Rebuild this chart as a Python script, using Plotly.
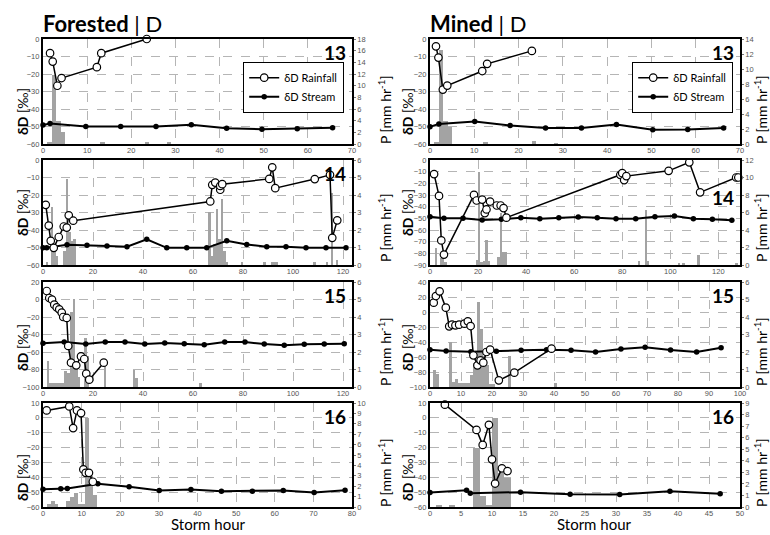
import plotly.graph_objects as go

# ---------------- DATA ----------------
# Forested event 13
f13_rain_h = [1.6, 2.2, 3.25, 4.2, 12.2, 13.2, 23.5]
f13_rain_d = [-8.1, -12.9, -26.7, -22.3, -16.1, -8.1, 0.0]
f13_stream_h = [0, 1.6, 9.7, 17.6, 25.6, 33.6, 41.6, 49.6, 57.6, 65.6]
f13_stream_d = [-49.2, -48.3, -50.0, -50.0, -50.0, -49.0, -51.0, -51.6, -51.3, -50.7]
f13_p_h = [1, 2, 3, 4, 13, 23, 28]
f13_p = [0.4, 11.8, 4.0, 2.0, 0.4, 0.4, 0.2]

# Mined event 13
m13_rain_h = [1.35, 1.9, 2.9, 3.9, 11.8, 12.9, 23.0]
m13_rain_d = [-4.2, -10.6, -28.9, -26.6, -18.3, -14.2, -6.8]
m13_stream_h = [0, 2.0, 10.1, 18.1, 26.1, 34.2, 42.1, 50.3, 58.2, 66.3]
m13_stream_d = [-50.2, -48.5, -47.2, -49.4, -50.9, -50.8, -48.9, -51.9, -51.7, -50.8]
m13_p_h = [1, 2, 3, 4, 12, 23, 28]
m13_p = [0.2, 12.6, 3.1, 2.3, 0.15, 0.45, 0.1]

# Forested event 14
f14_rain_h = [1.1, 2.3, 3.1, 4.3, 6.3, 8.3, 9.5, 10.3, 12.1, 66.9, 67.7, 68.9, 70.9, 70.9,
              71.7, 90.5, 91.7, 92.9, 108.7, 114.8, 115.7, 117.7]
f14_rain_d = [-25.6, -37.5, -46.2, -50.2, -44.0, -38.0, -38.6, -31.6, -34.7, -23.7, -14.2, -12.9,
              -17.0, -14.8, -13.8, -10.8, -4.2, -16.1, -10.9, -8.5, -44.5, -34.5]
f14_stream_h = [0, 1.5, 9.6, 17.6, 25.6, 33.6, 41.5, 49.5, 57.5, 65.5, 73.5, 81.5, 89.5, 97.2,
                105.2, 113.2, 121.2]
f14_stream_d = [-50.2, -50.2, -48.5, -48.7, -49.1, -49.6, -45.3, -50.2, -50.2, -50.2, -46.2,
                -48.3, -49.6, -49.6, -50.2, -50.2, -50.2]
f14_p_h = [1, 3, 4, 5, 8, 9, 10, 11, 12, 66, 67, 68, 69, 70, 71, 72, 73, 79, 88, 91, 92, 93,
           108, 113, 115, 117]
f14_p = [0.2, 3.3, 1.0, 0.5, 0.8, 4.9, 1.9, 1.4, 1.5, 3.05, 0.5, 1.2, 3.2, 1.5, 3.75, 0.8, 0.2,
         0.2, 0.2, 0.2, 0.2, 0.2, 0.2, 0.2, 4.1, 0.3]

# Mined event 14
m14_rain_h = [1.7, 3.75, 4.7, 5.8, 18.3, 19.4, 21.7, 22.8, 23.5, 25.0, 27.8, 29.4, 30.6, 31.8,
              79.2, 80.0, 80.8, 81.7, 99.3, 107.9, 112.4, 127.4, 128.3]
m14_rain_d = [-12.1, -30.8, -68.9, -81.1, -29.9, -34.7, -33.9, -45.5, -42.4, -35.6, -39.0, -39.0,
              -41.2, -49.4, -12.7, -11.3, -17.2, -13.8, -9.3, -2.0, -27.7, -15.0, -15.0]
m14_stream_h = [0, 5.8, 13.75, 21.7, 29.7, 37.8, 45.7, 53.6, 61.7, 69.6, 77.4, 85.6, 93.6,
                101.7, 109.6, 117.5, 125.6]
m14_stream_d = [-48.6, -50.0, -50.0, -51.4, -50.8, -49.4, -50.3, -49.4, -48.9, -49.4, -50.3,
                -50.3, -48.6, -48.0, -50.3, -50.8, -51.7]
m14_p_h = [2, 4, 5, 6, 19, 20, 21, 22, 23, 24, 28, 29, 30, 31, 86.5, 89.3, 90.3, 103, 105,
           111.3, 127]
m14_p = [1.9, 0.76, 0.76, 0.4, 0.57, 10.6, 0.4, 0.5, 2.9, 0.5, 0.95, 5.9, 1.45, 1.45, 0.46,
         6.3, 0.46, 0.2, 0.2, 1.2, 0.2]

# Forested event 15
f15_rain_h = [1.5, 2.5, 3.6, 4.5, 5.5, 6.5, 7.5, 8.1, 9.5, 10.1, 11.2, 13.3, 15.2, 16.5, 17.3,
              18.5, 24.3]
f15_rain_d = [9.7, 1.7, -0.2, -5.9, -9.0, -11.2, -15.0, -20.0, -21.1, -53.1, -72.2, -75.2,
              -65.0, -68.0, -84.8, -91.6, -72.2]
f15_stream_h = [0, 8.5, 17.1, 24.9, 32.8, 40.7, 48.7, 56.5, 64.5, 72.7, 80.8, 88.5, 96.5,
                104.5, 112.5, 120.5]
f15_stream_d = [-50.1, -48.6, -50.9, -48.6, -48.6, -50.9, -49.7, -50.5, -51.6, -48.6, -48.6,
                -50.9, -52.4, -51.2, -50.9, -50.5]
f15_p_h = [1.5, 2.5, 3.5, 4.5, 5.5, 6.5, 7.5, 8.5, 9.7, 10.8, 11.8, 12.8, 13.8, 16.5, 17.5,
           24.2, 35.9, 36.8, 62.5]
f15_p = [1.5, 0.25, 0.25, 0.25, 0.25, 0.25, 0.25, 0.9, 0.8, 4.3, 5.05, 1.2, 0.6, 2.8, 1.8,
         1.4, 1.0, 0.5, 0.25]

# Mined event 15
m15_rain_h = [1.2, 1.9, 3.1, 5.1, 6.2, 7.1, 8.2, 9.4, 11.1, 12.2, 13.1, 14.0, 15.3, 16.3, 17.2,
              18.2, 19.4, 22.2, 27.2, 39.2]
m15_rain_d = [12.4, 21.3, 27.6, 5.8, -19.1, -16.9, -17.8, -16.9, -15.6, -12.4, -18.7, -57.8,
              -71.1, -64.4, -67.6, -53.3, -50.2, -91.1, -80.9, -48.9]
m15_stream_h = [0, 5.2, 13.2, 21.4, 29.4, 37.6, 45.5, 53.4, 61.6, 69.4, 77.6, 86.0, 93.9]
m15_stream_d = [-50.2, -52.0, -52.9, -52.4, -51.1, -50.2, -51.1, -53.3, -49.3, -47.1, -50.7,
                -53.3, -47.6]
m15_p_h = [1, 2, 6, 7, 8, 9, 10, 11, 12, 13, 14, 15, 16, 17, 18, 19, 20, 25, 40]
m15_p = [1.0, 0.76, 2.57, 0.3, 0.48, 0.23, 0.23, 0.23, 0.23, 0.67, 1.4, 4.86, 3.3, 1.8, 1.24,
         0.2, 0.2, 1.8, 0.25]

# Forested event 16
f16_rain_h = [0.94, 6.8, 7.8, 8.8, 9.85, 10.45, 11.05, 11.9, 12.9]
f16_rain_d = [5.0, 7.7, -6.9, 5.0, 3.2, -34.7, -37.0, -37.0, -43.0]
f16_stream_h = [0, 4.6, 6.3, 14.2, 22.3, 30.1, 38.3, 46.2, 54.2, 62.2, 70.2, 78.2]
f16_stream_d = [-48.0, -47.8, -47.6, -44.4, -46.4, -48.9, -48.2, -49.4, -49.4, -48.9, -50.3, -48.7]
f16_p_h = [1, 2, 3, 6, 7, 8, 9, 10, 11, 12, 13]
f16_p = [0.25, 0.55, 0.25, 0.55, 1.0, 1.3, 0.3, 0.3, 8.6, 3.0, 1.2]

# Mined event 16
m16_rain_h = [2.4, 7.5, 8.5, 9.5, 10.0, 10.5, 11.6, 12.5]
m16_rain_d = [8.9, -8.1, -18.2, -4.7, -27.9, -44.2, -34.0, -35.8]
m16_stream_h = [0, 5.9, 6.5, 14.6, 22.6, 30.6, 38.7, 46.8]
m16_stream_d = [-50.3, -48.7, -50.7, -50.0, -51.4, -51.6, -49.4, -51.0]
m16_p_h = [1, 3, 7, 8, 9, 10, 11, 12]
m16_p = [0.2, 0.2, 5.1, 0.93, 0.2, 7.7, 2.9, 2.5]

event_labels = ["13", "13", "14", "14", "15", "15", "16", "16"]

# ---------------- LAYOUT HELPERS ----------------
W, H = 770, 535
def px(x):
    return x / W
def py(y):
    return 1 - y / H

col_px = [(43, 352), (430, 740)]
row_px = [(39, 144), (160, 265), (282, 387), (403, 507)]

panels = [
    dict(rh=f13_rain_h, rd=f13_rain_d, sh=f13_stream_h, sd=f13_stream_d, ph=f13_p_h, p=f13_p,
         row=0, col=0, xr=[0, 70], xd=10, dr=[-60, 0], dd=10, pr=[0, 18], pd=2),
    dict(rh=m13_rain_h, rd=m13_rain_d, sh=m13_stream_h, sd=m13_stream_d, ph=m13_p_h, p=m13_p,
         row=0, col=1, xr=[0, 70], xd=10, dr=[-60, 0], dd=10, pr=[0, 14], pd=2),
    dict(rh=f14_rain_h, rd=f14_rain_d, sh=f14_stream_h, sd=f14_stream_d, ph=f14_p_h, p=f14_p,
         row=1, col=0, xr=[0, 123.6], xd=20, dr=[-60, 0], dd=10, pr=[0, 6], pd=1),
    dict(rh=m14_rain_h, rd=m14_rain_d, sh=m14_stream_h, sd=m14_stream_d, ph=m14_p_h, p=m14_p,
         row=1, col=1, xr=[0, 129], xd=20, dr=[-90, 0], dd=10, pr=[0, 12], pd=2),
    dict(rh=f15_rain_h, rd=f15_rain_d, sh=f15_stream_h, sd=f15_stream_d, ph=f15_p_h, p=f15_p,
         row=2, col=0, xr=[0, 123.6], xd=20, dr=[-100, 20], dd=20, pr=[0, 6], pd=1),
    dict(rh=m15_rain_h, rd=m15_rain_d, sh=m15_stream_h, sd=m15_stream_d, ph=m15_p_h, p=m15_p,
         row=2, col=1, xr=[0, 100], xd=10, dr=[-100, 40], dd=20, pr=[0, 6], pd=1),
    dict(rh=f16_rain_h, rd=f16_rain_d, sh=f16_stream_h, sd=f16_stream_d, ph=f16_p_h, p=f16_p,
         row=3, col=0, xr=[0, 80], xd=10, dr=[-60, 10], dd=10, pr=[0, 10], pd=1),
    dict(rh=m16_rain_h, rd=m16_rain_d, sh=m16_stream_h, sd=m16_stream_d, ph=m16_p_h, p=m16_p,
         row=3, col=1, xr=[0, 50], xd=5, dr=[-60, 10], dd=10, pr=[0, 9], pd=1),
]

TICKFONT = dict(family="Liberation Sans", size=7.5, color="#555555")
GRID = "#b5b5b5"
BAR = "#a3a3a3"
TXT = "Lato"

fig = go.Figure()
layout = dict(
    width=W, height=H, margin=dict(l=0, r=0, t=0, b=0),
    paper_bgcolor="white", plot_bgcolor="white", template="none",
    font=dict(family=TXT, color="black"), barmode="overlay", bargap=0,
    showlegend=True,
)

annotations = []
for i, pn in enumerate(panels):
    k = i + 1
    kd = k + 8
    x0, x1 = col_px[pn["col"]]
    y0, y1 = row_px[pn["row"]]
    xname = "x" if k == 1 else f"x{k}"
    yname = "y" if k == 1 else f"y{k}"
    ydname = f"y{kd}"
    layout["xaxis" if k == 1 else f"xaxis{k}"] = dict(
        domain=[px(x0), px(x1)], range=pn["xr"], dtick=pn["xd"], tick0=0, anchor=yname,
        showgrid=True, gridcolor=GRID, griddash="dash", gridwidth=1,
        showline=True, mirror=True, linecolor="black", linewidth=1.5,
        zeroline=False, ticks="", tickfont=TICKFONT, automargin=False, ticklabelstandoff=-2,
    )
    layout["yaxis" if k == 1 else f"yaxis{k}"] = dict(
        domain=[py(y1), py(y0)], range=pn["pr"], dtick=pn["pd"], tick0=0, anchor=xname,
        side="right", showgrid=False, showline=True, linecolor="black", linewidth=1.5,
        zeroline=False, ticks="outside", ticklen=2, tickcolor="#777", tickfont=TICKFONT,
        automargin=False,
    )
    layout[f"yaxis{kd}"] = dict(
        overlaying=yname, anchor=xname, side="left", range=pn["dr"], dtick=pn["dd"], tick0=0,
        showgrid=True, gridcolor=GRID, griddash="dash", gridwidth=1,
        showline=True, linecolor="black", linewidth=2.2, zeroline=False, ticks="",
        tickfont=TICKFONT, automargin=False,
    )
    fig.add_trace(go.Bar(
        x=[h + 0.5 for h in pn["ph"]], y=pn["p"], width=[1.0] * len(pn["p"]),
        marker=dict(color=BAR, line=dict(width=0)), xaxis=xname, yaxis=yname,
        showlegend=False, hoverinfo="skip",
    ))
    leg = "legend" if pn["col"] == 0 else "legend2"
    first = pn["row"] == 0
    fig.add_trace(go.Scatter(
        x=pn["sh"], y=pn["sd"], mode="lines+markers", name="δD Stream",
        line=dict(color="black", width=2),
        marker=dict(symbol="circle", size=5.5, color="black"),
        xaxis=xname, yaxis=ydname, showlegend=first, legend=leg, legendrank=2,
        cliponaxis=False,
    ))
    fig.add_trace(go.Scatter(
        x=pn["rh"], y=pn["rd"], mode="lines+markers", name="δD Rainfall",
        line=dict(color="black", width=1.5),
        marker=dict(symbol="circle", size=7.5, color="white", line=dict(color="black", width=1.2)),
        xaxis=xname, yaxis=ydname, showlegend=first, legend=leg, legendrank=1,
        cliponaxis=False,
    ))
    num_y = y0 + 13 if not (pn["row"] == 1 and pn["col"] == 1) else 197
    annotations.append(dict(
        x=px(x1 - 4), y=py(num_y), xref="paper", yref="paper", xanchor="right",
        yanchor="middle", text=f"<b>{event_labels[i]}</b>", showarrow=False,
        font=dict(family=TXT, size=19, color="black"),
    ))

# axis titles
dD_title_y = [112, 213, 348, 478]
P_title_y = [110, 228, 352, 473]
for c, (xl, xr) in enumerate([(22, 384), (407, 760)]):
    for r in range(4):
        annotations.append(dict(
            x=px(xl), y=py(dD_title_y[r]), xref="paper", yref="paper", textangle=-90,
            text="<b>δD</b> [‰]", showarrow=False, xanchor="center", yanchor="middle",
            font=dict(family=TXT, size=14, color="black"),
        ))
        annotations.append(dict(
            x=px(xr), y=py(P_title_y[r]), xref="paper", yref="paper", textangle=-90,
            text="P [mm hr<sup>-1</sup>]", showarrow=False, xanchor="center", yanchor="middle",
            font=dict(family=TXT, size=14, color="black"),
        ))

annotations.append(dict(x=px(41), y=py(24), xref="paper", yref="paper", xanchor="left",
                        yanchor="middle", text="<b>Forested</b> | D", showarrow=False,
                        font=dict(family=TXT, size=22, color="black")))
annotations.append(dict(x=px(428), y=py(24), xref="paper", yref="paper", xanchor="left",
                        yanchor="middle", text="<b>Mined</b> | D", showarrow=False,
                        font=dict(family=TXT, size=22, color="black")))
for xc in (209, 594):
    annotations.append(dict(x=px(xc), y=py(535), xref="paper", yref="paper", xanchor="center",
                            yanchor="bottom", text="Storm hour", showarrow=False,
                            font=dict(family=TXT, size=15, color="black")))

layout["annotations"] = annotations
legend_style = dict(bgcolor="white", bordercolor="black", borderwidth=1.2,
                    font=dict(family=TXT, size=11, color="black"), itemwidth=30,
                    xanchor="right", yanchor="top", tracegroupgap=0)
layout["legend"] = dict(x=px(344), y=py(62), **legend_style)
layout["legend2"] = dict(x=px(733), y=py(62), **legend_style)

fig.update_layout(**layout)
fig.write_html("out.html")
